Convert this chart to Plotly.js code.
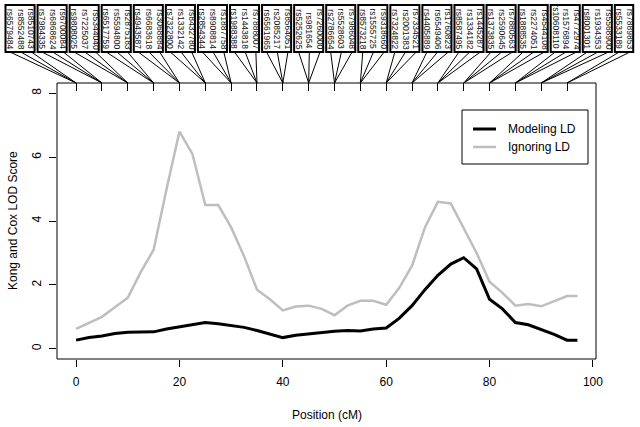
<!DOCTYPE html>
<html><head><meta charset="utf-8">
<script src="https://cdn.plot.ly/plotly-3.0.1.min.js"></script>
<style>html,body{margin:0;padding:0;background:#fff;}</style>
</head><body>
<div id="chart" style="width:640px;height:427px;"></div>
<script>
// ---- data ----
const position   = [0, 2.5, 5, 7.5, 10, 12.5, 15, 17.5, 20, 22.5, 25, 27.5, 30, 32.5, 35, 37.5, 40, 42.5, 45, 47.5, 50, 52.5, 55, 57.5, 60, 62.5, 65, 67.5, 70, 72.5, 75, 77.5, 80, 82.5, 85, 87.5, 90, 92.5, 95, 97];
const modelingLD = [0.27, 0.35, 0.40, 0.48, 0.52, 0.53, 0.53, 0.62, 0.68, 0.75, 0.82, 0.78, 0.72, 0.67, 0.57, 0.47, 0.35, 0.42, 0.47, 0.52, 0.55, 0.57, 0.56, 0.62, 0.65, 0.95, 1.35, 1.85, 2.30, 2.65, 2.85, 2.50, 1.55, 1.25, 0.82, 0.75, 0.60, 0.45, 0.27, 0.27];
const ignoringLD = [0.62, 0.80, 1.00, 1.30, 1.60, 2.40, 3.10, 5.00, 6.80, 6.10, 4.50, 4.50, 3.80, 2.90, 1.85, 1.55, 1.20, 1.32, 1.35, 1.25, 1.05, 1.35, 1.50, 1.50, 1.38, 1.90, 2.60, 3.80, 4.60, 4.55, 3.80, 3.00, 2.10, 1.75, 1.35, 1.40, 1.33, 1.50, 1.65, 1.65];

const snpNames = [
  "rs6579484","rs8552488","rs8510743",
  "rs7984335","rs6868624","rs6700084",
  "rs9808025","rs7225037","rs5344040",
  "rs6517759","rs5594800","rs2875183",
  "rs4943587","rs6683618","rs3068884",
  "rs7322800","rs1332142","rs8432780",
  "rs2854344","rs8908814","rs1887758",
  "rs1988388","rs1443818","rs7888007",
  "rs6561965","rs2085217","rs8564051",
  "rs5252625","rs981654","rs7260000",
  "rs2786654","rs5528603","rs7986048",
  "rs8573218","rs1555725","rs9318660",
  "rs7324822","rs2001383","rs7334521",
  "rs4405889","rs6549406","rs1760823",
  "rs8587495","rs1334182","rs1445287",
  "rs1373835","rs2590645","rs7880563",
  "rs1888535","rs2274051","rs4544108",
  "rs10608110","rs1576894","rs4772974",
  "rs8001301","rs1934353","rs5568900",
  "rs5533189","rs7889853"
];
const snpPos = [
  0,0,0, 5,5,5, 10,10,10, 15,15,15, 20,20,20, 25,25,25, 30,30,30, 35,35,35,
  40,40,40, 45,45,45, 50,50,50, 55,55,55, 60,60,60, 65,65,65, 70,70,70,
  75,75,75, 80,80,80, 85,85,85, 90,90,90, 95,95
];
const xTicks = [0, 20, 40, 60, 80, 100];
const yTicks = [0, 2, 4, 6, 8];
const seriesNames = ["Modeling LD", "Ignoring LD"];

// ---- layout geometry ----
const W = 640, H = 427, ML = 57, MR = 44, MT = 83, MB = 68;
const xRange = [-3.7, 100.6], yRange = [-0.32, 8.32];
const plotW = W - ML - MR, plotH = H - MT - MB;
const x2p = v => (v - xRange[0]) / (xRange[1] - xRange[0]);   // data x -> paper
const py2p = py => (H - MB - py) / plotH;                        // pixel y -> paper
const px2p = px => (px - ML) / plotW;                            // pixel x -> paper

const FONT = "Liberation Sans, Arial, sans-serif";
const labelPx = i => 10 + 10.69 * i;

const shapes = [];
const annotations = [];

// plot frame
shapes.push({type:"rect", xref:"paper", yref:"paper", x0:0, x1:1, y0:0, y1:1,
  line:{color:"#000", width:1}, layer:"above"});

// SNP labels, boxes and connectors
const boxTop = 5, boxBottom = 52, labelBottom = 50, tickTop = 83;
snpNames.forEach((name, i) => {
  annotations.push({xref:"paper", yref:"paper", x:px2p(labelPx(i)), y:py2p(labelBottom),
    xanchor:"center", yanchor:"bottom", text:name, textangle:90, showarrow:false,
    font:{family:FONT, size:8.5, color:"#111"}, borderpad:0});
  shapes.push({type:"line", xref:"paper", yref:"paper",
    x0:px2p(labelPx(i)), y0:py2p(boxBottom), x1:x2p(snpPos[i]), y1:py2p(tickTop),
    line:{color:"#000", width:1}});
});
const groups = [...new Set(snpPos)];
groups.forEach(g => {
  const idx = snpPos.map((p, i) => p === g ? i : -1).filter(i => i >= 0);
  const first = idx[0], last = idx[idx.length - 1];
  shapes.push({type:"rect", xref:"paper", yref:"paper",
    x0:px2p(labelPx(first) - 4.5), x1:px2p(labelPx(last) + 3.2),
    y0:py2p(boxBottom), y1:py2p(boxTop), line:{color:"#000", width:2}});
});

// legend (manual, R style)
const lg = {l:462, r:588, t:110, b:164};
shapes.push({type:"rect", xref:"paper", yref:"paper", x0:px2p(lg.l), x1:px2p(lg.r),
  y0:py2p(lg.b), y1:py2p(lg.t), line:{color:"#000", width:1}, fillcolor:"#fff"});
const legendColors = ["#000000", "#bebebe"], legendWidths = [3, 2.5], legendY = [129, 147];
seriesNames.forEach((nm, k) => {
  shapes.push({type:"line", xref:"paper", yref:"paper", x0:px2p(473), x1:px2p(496),
    y0:py2p(legendY[k]), y1:py2p(legendY[k]), line:{color:legendColors[k], width:legendWidths[k]}});
  annotations.push({xref:"paper", yref:"paper", x:px2p(506), y:py2p(legendY[k]),
    xanchor:"left", yanchor:"middle", text:nm, showarrow:false,
    font:{family:FONT, size:12, color:"#000"}});
});

// axis titles
annotations.push({xref:"paper", yref:"paper", x:0.5, y:py2p(415), xanchor:"center", yanchor:"middle",
  text:"Position (cM)", showarrow:false, font:{family:FONT, size:12, color:"#000"}});
annotations.push({xref:"paper", yref:"paper", x:px2p(13), y:py2p(221), xanchor:"center", yanchor:"middle",
  text:"Kong and Cox LOD Score", textangle:-90, showarrow:false, font:{family:FONT, size:12, color:"#000"}});

const traces = [
  {x:position, y:modelingLD, name:seriesNames[0], type:"scatter", mode:"lines",
   line:{color:legendColors[0], width:3}, showlegend:false},
  {x:position, y:ignoringLD, name:seriesNames[1], type:"scatter", mode:"lines",
   line:{color:legendColors[1], width:2.5}, showlegend:false},
  {x:groups, y:groups.map(() => null), xaxis:"x2", yaxis:"y", type:"scatter", mode:"markers",
   showlegend:false, hoverinfo:"skip"}
];

const layout = {
  width:W, height:H, margin:{l:ML, r:MR, t:MT, b:MB, pad:0},
  paper_bgcolor:"#fff", plot_bgcolor:"#fff", showlegend:false,
  font:{family:FONT, size:12, color:"#000"},
  xaxis:{range:xRange, tickvals:xTicks, ticks:"outside", ticklen:7, tickcolor:"#000",
    ticklabelstandoff:5,
    showgrid:false, zeroline:false, showline:false, tickfont:{family:FONT, size:12, color:"#000"}},
  xaxis2:{range:xRange, overlaying:"x", side:"top", tickvals:groups, ticks:"inside", ticklen:8,
    tickcolor:"#000", showticklabels:false, showgrid:false, zeroline:false, showline:false},
  yaxis:{range:yRange, tickvals:yTicks, ticks:"outside", ticklen:7, tickcolor:"#000", tickangle:-90,
    ticklabelstandoff:3,
    showgrid:false, zeroline:false, showline:false, tickfont:{family:FONT, size:12, color:"#000"}},
  shapes:shapes, annotations:annotations
};

Plotly.newPlot("chart", traces, layout, {staticPlot:true});
</script>
</body></html>
